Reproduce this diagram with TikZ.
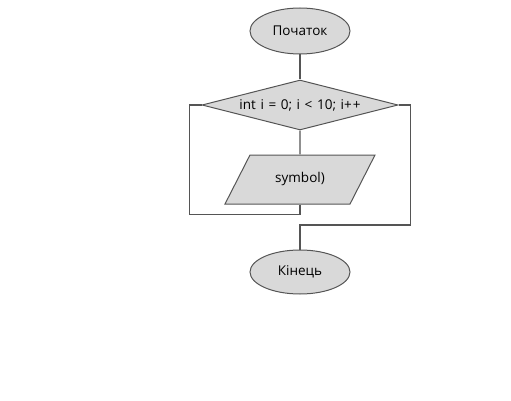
\documentclass[tikz,border=0pt]{standalone}
\usepackage{fontspec}
\setmainfont{Open Sans}
\usetikzlibrary{shapes.geometric}

\definecolor{trait}{RGB}{85,85,85}
\definecolor{fond}{RGB}{217,217,217}

\begin{document}
\begin{tikzpicture}[x=1pt, y=-1pt,
  forme/.style={draw=trait, fill=fond, line width=1pt, inner sep=0pt, font=\fontsize{13.5}{16}\selectfont},
  lien/.style={draw=trait, line width=1.1pt}]
  \useasboundingbox (0,0) rectangle (511,401);

  \node[forme, ellipse, minimum width=100, minimum height=46] (debut) at (300,31) {Початок};
  \node[forme, diamond, aspect=3.92, minimum width=196, minimum height=50] (boucle) at (300,105)
    {\spaceskip=0.34em int i = 0; i < 10; i+\kern1pt+};
  \node[forme, trapezium, trapezium left angle=63, trapezium right angle=117,
        trapezium stretches body, text height=8, text depth=3, inner ysep=19,
        minimum width=150] (sortie) at (300,179.5) {symbol)};
  \node[forme, ellipse, minimum width=100, minimum height=44] (fin) at (300,272) {Кінець};

  \coordinate (jonction) at (300,225);

  \draw[lien] (debut) -- (boucle);
  \draw[lien] (boucle) -- (sortie);
  % retour de la boucle
  \draw[lien] (sortie.south) -- ++(0,10) -| ([xshift=-12]boucle.west) -- (boucle.west);
  \draw[lien] (boucle.east) -- ++(12,0) |- (jonction) -- (fin);
\end{tikzpicture}
\end{document}
